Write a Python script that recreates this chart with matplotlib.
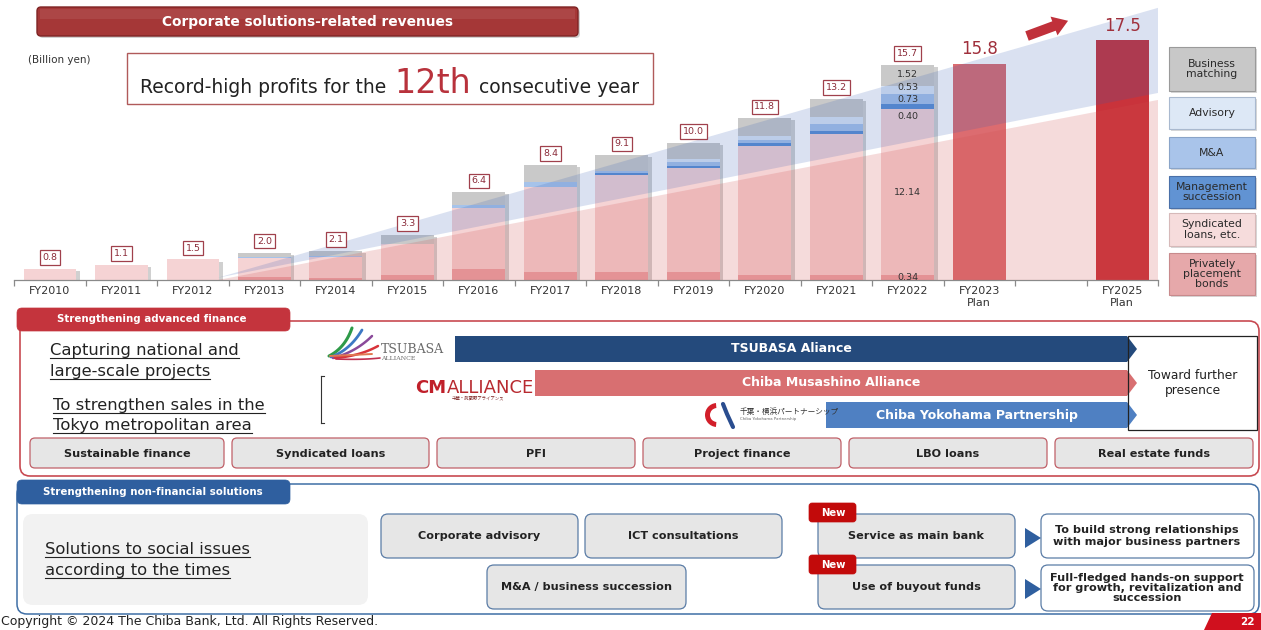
import matplotlib
matplotlib.use("Agg")
import matplotlib.pyplot as plt
from matplotlib.patches import FancyBboxPatch, Rectangle, Polygon, FancyArrow, Wedge
import matplotlib.patheffects as pe
import numpy as np

plt.rcParams['font.family'] = ['DejaVu Sans', 'Noto Sans CJK JP']

# ---------------- data ----------------
hist_years = ["FY2010", "FY2011", "FY2012", "FY2013", "FY2014", "FY2015", "FY2016",
              "FY2017", "FY2018", "FY2019", "FY2020", "FY2021", "FY2022"]
hist_totals = [0.8, 1.1, 1.5, 2.0, 2.1, 3.3, 6.4, 8.4, 9.1, 10.0, 11.8, 13.2, 15.7]
private_bonds = [0, 0, 0, 0.2, 0.15, 0.4, 0.8, 0.6, 0.6, 0.6, 0.35, 0.35, 0.34]
syndicated = [0.8, 1.1, 1.5, 1.4, 1.55, 2.2, 4.45, 6.18, 7.05, 7.55, 9.45, 10.28, 12.14]
mgmt_succession = [0, 0, 0, 0, 0, 0, 0, 0, 0.15, 0.2, 0.2, 0.22, 0.40]
mna = [0, 0, 0, 0.05, 0.05, 0, 0.2, 0.37, 0.15, 0.25, 0.2, 0.55, 0.73]
advisory = [0, 0, 0, 0, 0, 0, 0, 0, 0, 0.2, 0.3, 0.5, 0.53]
business_matching = [0, 0, 0, 0.35, 0.35, 0.7, 0.95, 1.25, 1.15, 1.2, 1.3, 1.3, 1.52]
plan_years = ["FY2023\nPlan", "FY2025\nPlan"]
plan_values = [15.8, 17.5]
tick_labels = hist_years + ["FY2023\nPlan", "", "FY2025\nPlan"]
series_names = ["Privately\nplacement\nbonds", "Syndicated\nloans, etc.", "Management\nsuccession",
                "M&A", "Advisory", "Business\nmatching"]

advanced_items = ["Sustainable finance", "Syndicated loans", "PFI", "Project finance",
                  "LBO loans", "Real estate funds"]
alliances = ["TSUBASA Aliance", "Chiba Musashino Alliance", "Chiba Yokohama Partnership"]

# ---------------- figure ----------------
W, H = 1261, 630
fig = plt.figure(figsize=(W / 100, H / 100), dpi=100)
fig.patch.set_facecolor("white")
PX = 13.7  # pixels per billion yen
ax = fig.add_axes([14.25 / W, (H - 280) / H, (1158 - 14.25) / W, 280 / H], zorder=1)
ax.set_xlim(-0.5, 15.5)
ax.set_ylim(0, 280 / PX)
ax.patch.set_alpha(0)
for s in ["top", "left", "right"]:
    ax.spines[s].set_visible(False)
ax.spines["bottom"].set_color("#8a8a8a")
ax.spines["bottom"].set_linewidth(0.9)
ax.set_yticks([])
ax.set_xticks(range(16))
ax.set_xticklabels(tick_labels, fontsize=8, color="#333333", linespacing=1.25)
ax.tick_params(axis="x", which="major", length=0, pad=4)
ax.set_xticks(np.arange(-0.5, 16, 1), minor=True)
ax.tick_params(axis="x", which="minor", length=4, color="#8a8a8a", width=0.9)

x_hist = np.arange(len(hist_years))
bw = 0.74
seg_colors = ["#e9a3a7", "#f5d3d4", "#5b8fd3", "#a6c3ea", "#dbe6f5", "#c9c9c9"]
series = [private_bonds, syndicated, mgmt_succession, mna, advisory, business_matching]

shadow = [pe.SimplePatchShadow(offset=(2.5, -1.5), shadow_rgbFace="#8a8a8a", alpha=0.4), pe.Normal()]
ax.bar(x_hist, hist_totals, bw, color="white", lw=0, zorder=1.9, path_effects=shadow)
bottom = np.zeros(len(hist_years))
for vals, col in zip(series, seg_colors):
    ax.bar(x_hist, vals, bw, bottom=bottom, color=col, lw=0, zorder=2)
    bottom += np.array(vals)

x_plan = [13, 15]
ax.bar(x_plan, plan_values, bw, color=["#dc6c70", "#c9333b"], lw=0, zorder=2)

# translucent background wedges (decoration, axes fraction)
ax.add_patch(Polygon([(0.178, 0.0), (1.0, 0.643), (1.0, 0.0)], closed=True,
                     transform=ax.transAxes, fc=(0.82, 0.31, 0.31), alpha=0.2, lw=0, zorder=3))
ax.add_patch(Polygon([(0.178, 0.008), (1.0, 0.972), (1.0, 0.668)], closed=True,
                     transform=ax.transAxes, fc=(0.20, 0.36, 0.70), alpha=0.18, lw=0, zorder=3))

# total value boxes
for x, v in zip(x_hist, hist_totals):
    ax.annotate(f"{v:.1f}", (x, v), xytext=(0, 5), textcoords="offset points",
                ha="center", va="bottom", fontsize=6.8, color="#8b2c3a", zorder=6,
                bbox=dict(boxstyle="square,pad=0.3", fc="white", ec="#a0404c", lw=0.9))
for x, v in zip(x_plan, plan_values):
    ax.annotate(f"{v:.1f}", (x, v), xytext=(0, 4), textcoords="offset points",
                ha="center", va="bottom", fontsize=12, color="#a0303c", zorder=6)

# FY2022 breakdown labels
i22 = len(hist_years) - 1
cum = 0
label_offsets = [0, 0, -7, -1, 1.8, 1.2]
for vals, off in zip(series, label_offsets):
    v = vals[i22]
    ax.annotate(f"{v:.2f}", (x_hist[i22], cum + v / 2), xytext=(0, off), textcoords="offset points",
                ha="center", va="center", fontsize=6.8, color="#333333", zorder=6)
    cum += v

# ---------------- overlay (pixel coordinates) ----------------
ov = fig.add_axes([0, 0, 1, 1], zorder=5)
ov.set_xlim(0, W)
ov.set_ylim(H, 0)
ov.axis("off")
ov.patch.set_alpha(0)


def rbox(x0, y0, x1, y1, fc, ec, lw=1.0, r=6, z=2, sh=False, alpha=1.0):
    if sh:
        ov.add_patch(FancyBboxPatch((x0 + 2, y0 + 2), x1 - x0, y1 - y0,
                                    boxstyle=f"round,pad=0,rounding_size={r}",
                                    fc="#9a9a9a", ec="none", alpha=0.45, zorder=z - 0.1))
    ov.add_patch(FancyBboxPatch((x0, y0), x1 - x0, y1 - y0,
                                boxstyle=f"round,pad=0,rounding_size={r}",
                                fc=fc, ec=ec, lw=lw, zorder=z, alpha=alpha))


# Title banner
rbox(37, 7, 578, 36, "#a53737", "#7e2424", lw=1.0, r=4, sh=True)
ov.add_patch(Rectangle((40, 9), 535, 10, fc="white", alpha=0.08, lw=0, zorder=2.1))
ov.text(307, 22, "Corporate solutions-related revenues", color="white", fontsize=9.9,
        fontweight="bold", ha="center", va="center", zorder=3)

ov.text(28, 63, "(Billion yen)", fontsize=7.5, color="#333333", va="baseline")

# Record-high box
ov.add_patch(Rectangle((127, 53), 526, 51, fc="white", ec="#b05a5a", lw=1.0, zorder=2))
t1 = ov.text(0, 93, "Record-high profits for the", fontsize=13.5, color="#222222", va="baseline", zorder=3)
t2 = ov.text(0, 93, "12th", fontsize=24, color="#b8323c", va="baseline", zorder=3)
t3 = ov.text(0, 93, "consecutive year", fontsize=13.5, color="#222222", va="baseline", zorder=3)

# red arrow
ov.add_patch(FancyArrow(1027, 36, 27, -10, width=10, head_width=20, head_length=15,
                        length_includes_head=False, fc="#c0303a", ec="none", zorder=3))

# legend boxes
leg_boxes = [(47, 91), (97, 129), (137, 168), (176, 208), (213, 246), (253, 295)]
leg_colors = ["#c8c8c8", "#dde8f6", "#a9c4ea", "#6193d3", "#f6dcdc", "#e6a8aa"]
leg_edges = ["#9a9a9a", "#a9b9cf", "#8aa4c8", "#4a70a8", "#d6b9b9", "#c88a8c"]
leg_order = [5, 4, 3, 2, 1, 0]
for (y0, y1), fc, ec, k in zip(leg_boxes, leg_colors, leg_edges, leg_order):
    ov.add_patch(Rectangle((1171, y0 + 2), 86, y1 - y0, fc="#b0b0b0", alpha=0.5, lw=0, zorder=1.9))
    ov.add_patch(Rectangle((1169, y0), 86, y1 - y0, fc=fc, ec=ec, lw=0.8, zorder=2))
    ov.text(1212, (y0 + y1) / 2, series_names[k], fontsize=7.8, color="#2a2a2a",
            ha="center", va="center", linespacing=1.05, zorder=3)

# ---------------- Strengthening advanced finance ----------------
rbox(20, 321, 1259, 476, "none", "#c84a52", lw=1.2, r=10, z=2)
rbox(17, 308, 290, 331, "#c4343d", "#c4343d", lw=0.5, r=5, z=3)
ov.text(152, 319.5, "Strengthening advanced finance", color="white", fontsize=7.4,
        fontweight="bold", ha="center", va="center", zorder=4)

underlines = []
for s, x, y in [("Capturing national and", 50, 355), ("large-scale projects", 50, 376),
                ("To strengthen sales in the", 53, 410), ("Tokyo metropolitan area", 53, 430)]:
    t = ov.text(x, y, s, fontsize=11.8, color="#222222", va="baseline", zorder=4)
    underlines.append((t, y))

# bracket
ov.plot([321, 321], [376, 423], color="#333333", lw=0.8, zorder=4)
ov.plot([321, 324], [376, 376], color="#333333", lw=0.8, zorder=4)
ov.plot([321, 324], [423, 423], color="#333333", lw=0.8, zorder=4)

# TSUBASA logo (stylised)
tt = np.linspace(0, 1, 30)
for (sx, sy), (cx, cy), (ex, ey), col, lw in [
        ((329, 356), (345, 348), (352, 328), "#2e9a48", 2.2),
        ((331, 357), (350, 350), (362, 330), "#3d78c4", 2.0),
        ((333, 358), (356, 352), (372, 336), "#8a4a9a", 1.8),
        ((335, 358), (360, 356), (378, 346), "#d8333a", 1.8),
        ((330, 356), (352, 355), (372, 354), "#e07850", 1.4),
        ((336, 359), (362, 360), (380, 358), "#c03050", 1.2)]:
    bx = (1 - tt) ** 2 * sx + 2 * (1 - tt) * tt * cx + tt ** 2 * ex
    by = (1 - tt) ** 2 * sy + 2 * (1 - tt) * tt * cy + tt ** 2 * ey
    ov.plot(bx, by, color=col, lw=lw, solid_capstyle="round", zorder=4)
ov.text(381, 353, "TSUBASA", fontsize=9, family="DejaVu Serif", color="#6a6a6a", va="baseline", zorder=4)
ov.text(381, 360, "ALLIANCE", fontsize=4.5, family="DejaVu Serif", color="#6a6a6a", va="baseline", zorder=4)

# CM ALLIANCE logo (stylised)
ov.text(415, 393, "CM", fontsize=13, fontweight="bold", color="#c0202a", va="baseline", zorder=4)
ov.text(447, 393, "ALLIANCE", fontsize=13, family="Liberation Sans Narrow", color="#b82a30",
        va="baseline", zorder=4)
ov.text(452, 399, "千葉・武蔵野アライアンス", fontsize=3.2, color="#7a2020", va="baseline", zorder=4)

# Chiba Yokohama logo (stylised)
ov.add_patch(Wedge((717, 415), 12, 95, 265, width=5, fc="#d21f2a", ec="none", zorder=4))
ov.plot([723, 727, 733], [404, 414, 427], color="#2a4d8f", lw=3, solid_capstyle="round", zorder=4)
ov.text(740, 414, "千葉・横浜パートナーシップ", fontsize=5.5, color="#333333", va="baseline", zorder=4)
ov.text(740, 420, "Chiba Yokohama Partnership", fontsize=2.8, color="#666666", va="baseline", zorder=4)

# alliance arrows
arrow_rows = [(455, 336, 362, "#244a7c"), (535, 370, 396, "#d86f71"), (826, 402, 428, "#4f80c2")]
for name, (x0, y0, y1, col) in zip(alliances, arrow_rows):
    ov.add_patch(Polygon([(x0, y0), (1127, y0), (1137, (y0 + y1) / 2), (1127, y1), (x0, y1)],
                         closed=True, fc=col, ec="none", zorder=3))
    ov.text((x0 + 1127) / 2, (y0 + y1) / 2, name, color="white", fontsize=9,
            fontweight="bold", ha="center", va="center", zorder=5)

ov.add_patch(Rectangle((1128, 336), 129, 94, fc="none", ec="#222222", lw=0.9, zorder=4))
ov.text(1193, 383, "Toward further\npresence", fontsize=8.8, color="#222222", ha="center",
        va="center", linespacing=1.15, zorder=5)

# buttons row
btn_x = [(30, 224), (232, 429), (437, 635), (643, 841), (849, 1047), (1055, 1253)]
for (x0, x1), label in zip(btn_x, advanced_items):
    rbox(x0, 438, x1, 468, "#e6e6e6", "#c06068", lw=0.9, r=5, z=3)
    ov.text((x0 + x1) / 2, 454, label, fontsize=8.1, fontweight="bold", color="#222222",
            ha="center", va="center", zorder=4)

# ---------------- Strengthening non-financial solutions ----------------
rbox(17, 484, 1259, 614, "none", "#3f6fa6", lw=1.1, r=10, z=2)
rbox(17, 480, 290, 504, "#2f5f9f", "#2f5f9f", lw=0.5, r=5, z=3)
ov.text(153, 492, "Strengthening non-financial solutions", color="white", fontsize=7.4,
        fontweight="bold", ha="center", va="center", zorder=4)

rbox(23, 514, 368, 605, "#f2f2f2", "none", lw=0, r=10, z=2.5)
for s, x, y in [("Solutions to social issues", 45, 554), ("according to the times", 45, 575)]:
    t = ov.text(x, y, s, fontsize=11.8, color="#222222", va="baseline", zorder=4)
    underlines.append((t, y))

nf_buttons = [((381, 514, 578, 558), "Corporate advisory"),
              ((585, 514, 782, 558), "ICT consultations"),
              ((487, 565, 686, 609), "M&A / business succession"),
              ((818, 514, 1015, 558), "Service as main bank"),
              ((818, 565, 1015, 609), "Use of buyout funds")]
for (x0, y0, x1, y1), label in nf_buttons:
    rbox(x0, y0, x1, y1, "#e6e6e6", "#5a7ca6", lw=0.9, r=7, z=3)
    ov.text((x0 + x1) / 2, (y0 + y1) / 2, label, fontsize=8.1, fontweight="bold",
            color="#222222", ha="center", va="center", zorder=4)

for y0 in [503, 555]:
    rbox(809, y0, 856, y0 + 19, "#c20a0a", "#c20a0a", lw=0.5, r=3, z=4.5)
    ov.text(833, y0 + 9.5, "New", fontsize=7.3, fontweight="bold", color="white",
            ha="center", va="center", zorder=5)

for yc in [538, 589]:
    ov.add_patch(Polygon([(1025, yc - 10), (1041, yc), (1025, yc + 10)], closed=True,
                         fc="#2f5f9f", ec="none", zorder=4))

rbox(1041, 514, 1254, 558, "white", "#5a7ca6", lw=0.9, r=7, z=3)
ov.text(1147, 536, "To build strong relationships\nwith major business partners", fontsize=8.1,
        fontweight="bold", color="#222222", ha="center", va="center", linespacing=1.15, zorder=4)
rbox(1041, 565, 1254, 611, "white", "#5a7ca6", lw=0.9, r=7, z=3)
ov.text(1147, 588, "Full-fledged hands-on support\nfor growth, revitalization and\nsuccession",
        fontsize=8.1, fontweight="bold", color="#222222", ha="center", va="center",
        linespacing=1.0, zorder=4)

# footer
ov.text(1, 622, "Copyright © 2024 The Chiba Bank, Ltd. All Rights Reserved.", fontsize=9,
        color="#222222", va="center", zorder=4)
ov.add_patch(Polygon([(1212, 613), (1261, 613), (1261, 630), (1204, 630)], closed=True,
                     fc="#d0101e", ec="none", zorder=4))
ov.text(1247, 622, "22", fontsize=7.5, fontweight="bold", color="white", ha="center",
        va="center", zorder=5)

# ---------------- layout of measured texts ----------------
fig.canvas.draw()
r = fig.canvas.get_renderer()
inv = ov.transData.inverted()
ws = []
for t in (t1, t2, t3):
    bb = t.get_window_extent(r)
    ws.append(bb.width)
gap = 8
total = sum(ws) + 2 * gap
x = 390 - total / 2
for t, w in zip((t1, t2, t3), ws):
    t.set_x(x)
    x += w + gap

for t, y in underlines:
    bb = t.get_window_extent(r)
    xa = inv.transform((bb.x0, bb.y0))[0]
    xb = inv.transform((bb.x1, bb.y0))[0]
    ov.plot([xa, xb], [y + 3, y + 3], color="#222222", lw=0.8, zorder=4)

fig.savefig("out.png", dpi=100, facecolor="white")
